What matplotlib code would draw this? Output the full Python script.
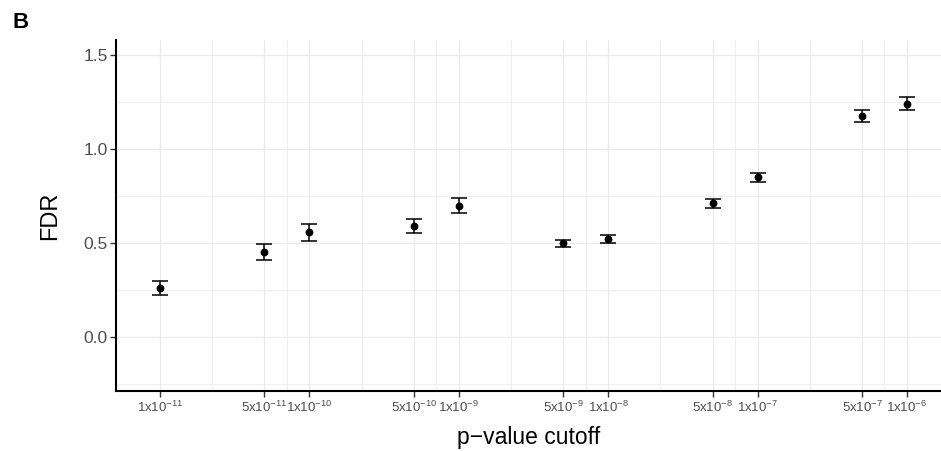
import numpy as np
import matplotlib
matplotlib.use("Agg")
import matplotlib.pyplot as plt

plt.rcParams['font.family'] = ['Liberation Sans', 'DejaVu Sans']
plt.rcParams['mathtext.fontset'] = 'custom'
plt.rcParams['mathtext.rm'] = 'Liberation Sans'

# p-value cutoffs and FDR estimates with error bar limits
cutoffs = [1e-11, 5e-11, 1e-10, 5e-10, 1e-9, 5e-9, 1e-8, 5e-8, 1e-7, 5e-7, 1e-6]
cutoff_labels = ['1x10^{-11}', '5x10^{-11}', '1x10^{-10}', '5x10^{-10}', '1x10^{-9}',
                 '5x10^{-9}', '1x10^{-8}', '5x10^{-8}', '1x10^{-7}', '5x10^{-7}', '1x10^{-6}']
fdr = [0.262, 0.452, 0.557, 0.589, 0.698, 0.498, 0.520, 0.711, 0.849, 1.176, 1.241]
fdr_low = [0.223, 0.411, 0.509, 0.553, 0.658, 0.479, 0.500, 0.688, 0.824, 1.144, 1.207]
fdr_high = [0.300, 0.496, 0.601, 0.629, 0.738, 0.518, 0.541, 0.736, 0.874, 1.207, 1.275]

fig = plt.figure(figsize=(9.41, 4.51), dpi=100)
ax = fig.add_axes([116 / 941, 1 - 391 / 451, 825 / 941, 351 / 451])

x = np.array(cutoffs)
y = np.array(fdr)
yerr = [y - np.array(fdr_low), np.array(fdr_high) - y]

ax.set_xscale('log')
lx = np.log10(x)
ax.set_xlim(10 ** (lx[0] - 44 / 149.2), 10 ** (lx[-1] + 34 / 149.2))
ax.set_ylim(-0.287, 1.58)

# grid, ggplot style (minor lines halfway between breaks)
grid_col = '#EBEBEB'
for v in x:
    ax.axvline(v, color=grid_col, lw=0.9, zorder=0)
for a, b in zip(lx[:-1], lx[1:]):
    ax.axvline(10 ** ((a + b) / 2), color=grid_col, lw=0.6, zorder=0)
yticks = [0.0, 0.5, 1.0, 1.5]
for v in yticks:
    ax.axhline(v, color=grid_col, lw=0.9, zorder=0)
for v in [-0.25, 0.25, 0.75, 1.25]:
    ax.axhline(v, color=grid_col, lw=0.6, zorder=0)

ax.errorbar(x, y, yerr=yerr, fmt='o', color='black', ms=4.6, elinewidth=1.1,
            capsize=5.8, capthick=1.1, zorder=3)

ax.set_xticks(x)
ax.set_xticklabels(['$\\mathregular{' + s + '}$' for s in cutoff_labels])
ax.minorticks_off()
ax.set_yticks(yticks)
ax.set_yticklabels(['0.0', '0.5', '1.0', '1.5'])
ax.tick_params(axis='x', labelsize=9.5, colors='#4D4D4D', length=4, width=1, pad=2)
ax.tick_params(axis='y', labelsize=12.5, colors='#4D4D4D', length=4, width=1, pad=2)
ax.tick_params(axis='both', color='#333333')

for side in ['top', 'right']:
    ax.spines[side].set_visible(False)
for side in ['left', 'bottom']:
    ax.spines[side].set_linewidth(1.5)
    ax.spines[side].set_color('black')

ax.set_xlabel('p\u2212value cutoff', fontsize=16.5, labelpad=8)
ax.set_ylabel('FDR', fontsize=17, labelpad=16)

fig.text(12 / 941, 1 - 12 / 451, 'B', fontsize=16, fontweight='bold', va='top', ha='left')

fig.savefig('out.png', dpi=100)
